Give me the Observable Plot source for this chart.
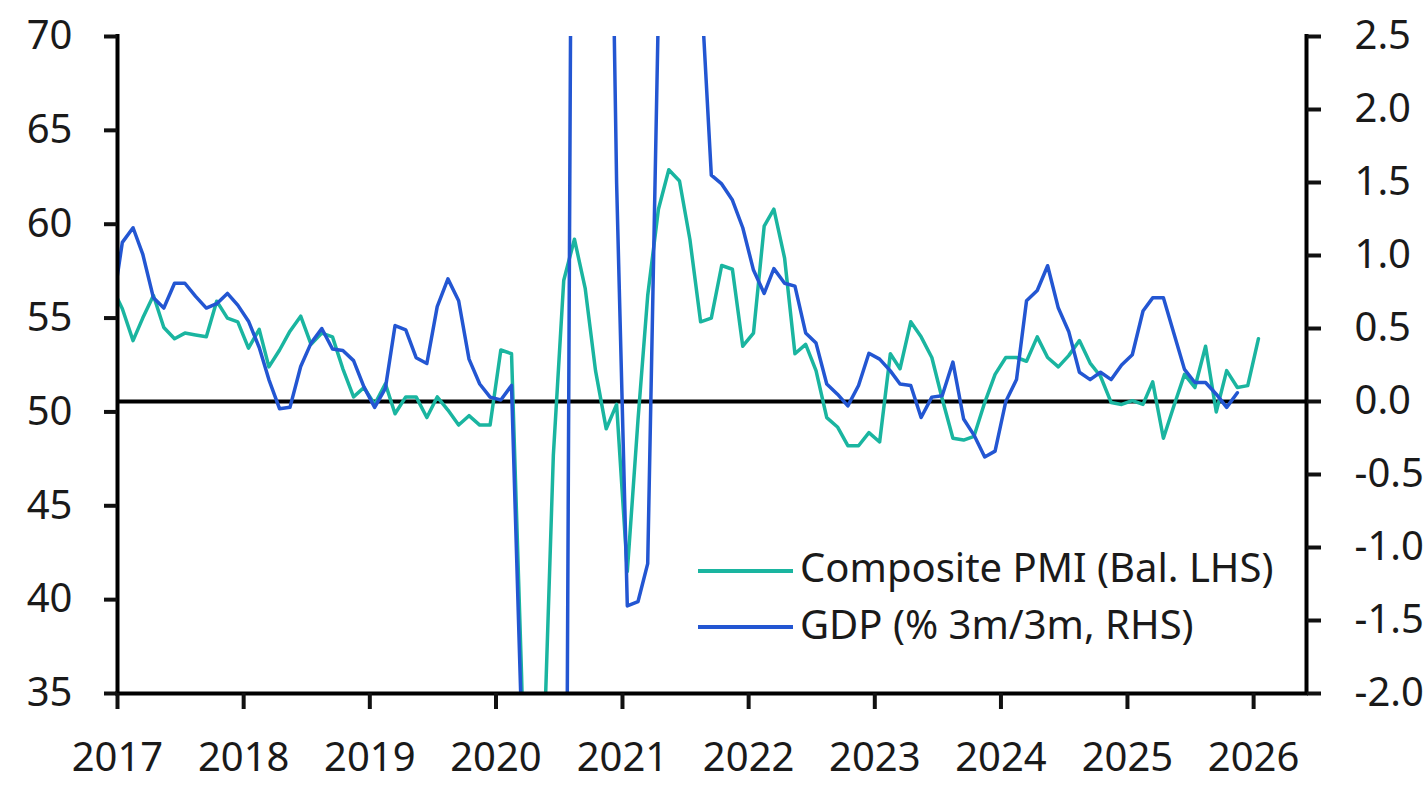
<!DOCTYPE html>
<html>
<head>
<meta charset="utf-8">
<script src="https://cdn.jsdelivr.net/npm/d3@7"></script>
<script src="https://cdn.jsdelivr.net/npm/@observablehq/plot@0.6"></script>
<style>
  html, body { margin: 0; padding: 0; background: #fff; }
  #wrap { position: relative; width: 1427px; height: 798px; overflow: hidden; font-family: "Noto Sans", sans-serif; color: #1a1a1a; }
  .sw { position: absolute; left: 698px; width: 95px; height: 4px; }
  .lt { position: absolute; left: 800px; font-size: 40px; line-height: 40px; white-space: nowrap; }
</style>
</head>
<body>
<div id="wrap"></div>
<script>
// ---- data (monthly, first value = Dec 2016) ----
const pmiStart = [2016, 11];
const pmi = [56.7,
  55.5, 53.8, 55.0, 56.2, 54.5, 53.9, 54.2, 54.1, 54.0, 55.9, 55.0, 54.8,
  53.4, 54.4, 52.4, 53.3, 54.3, 55.1, 53.6, 54.2, 54.0, 52.3, 50.8, 51.3,
  50.4, 51.5, 49.9, 50.8, 50.8, 49.7, 50.8, 50.1, 49.3, 49.8, 49.3, 49.3,
  53.3, 53.1, 36.0, 13.8, 30.0, 47.7, 57.0, 59.2, 56.6, 52.2, 49.1, 50.4,
  41.5, 49.6, 56.2, 60.8, 62.9, 62.3, 59.2, 54.8, 55.0, 57.8, 57.6, 53.5,
  54.2, 59.9, 60.8, 58.2, 53.1, 53.6, 52.2, 49.7, 49.2, 48.2, 48.2, 48.9,
  48.4, 53.1, 52.3, 54.8, 54.0, 52.9, 50.7, 48.6, 48.5, 48.7, 50.5, 52.0,
  52.9, 52.9, 52.7, 54.0, 52.9, 52.4, 53.0, 53.8, 52.6, 51.9, 50.5, 50.4,
  50.6, 50.4, 51.6, 48.6, 50.3, 52.0, 51.3, 53.5, 50.0, 52.2, 51.3, 51.4,
  53.9];

const gdpStart = [2016, 11];
const gdp = [0.60,
  1.09, 1.19, 1.01, 0.71, 0.64, 0.81, 0.81, 0.72, 0.64, 0.67, 0.74, 0.66,
  0.55, 0.37, 0.15, -0.05, -0.04, 0.24, 0.40, 0.50, 0.36, 0.35, 0.28, 0.10,
  -0.04, 0.09, 0.52, 0.49, 0.30, 0.26, 0.65, 0.84, 0.69, 0.29, 0.12, 0.03,
  0.01, 0.11, -2.2, -10.0, -19.0, -20.0, -7.0, 8.0, 15.0, 10.0, 6.0, 1.5,
  -1.40, -1.37, -1.11, 2.7, 3.6, 4.8, 3.6, 2.9, 1.55, 1.49, 1.38, 1.19,
  0.90, 0.74, 0.91, 0.81, 0.79, 0.47, 0.40, 0.12, 0.05, -0.03, 0.11, 0.33,
  0.29, 0.21, 0.12, 0.11, -0.11, 0.03, 0.04, 0.27, -0.12, -0.23, -0.38, -0.34,
  0.00, 0.15, 0.69, 0.76, 0.93, 0.64, 0.48, 0.20, 0.15, 0.20, 0.15, 0.25,
  0.32, 0.62, 0.71, 0.71, 0.47, 0.22, 0.13, 0.13, 0.05, -0.04, 0.06];

const leftDomain = [35, 70];
const rightDomain = [-2.0, 2.5];
const leftTicks = [35, 40, 45, 50, 55, 60, 65, 70];
const rightTicks = [-2.0, -1.5, -1.0, -0.5, 0.0, 0.5, 1.0, 1.5, 2.0, 2.5];
const yearTicks = [2017, 2018, 2019, 2020, 2021, 2022, 2023, 2024, 2025, 2026];
const xStart = [2017, 0, 1];
const xEnd = [2026, 5, 3];
const seriesNames = ["Composite PMI (Bal. LHS)", "GDP (% 3m/3m, RHS)"];
const seriesColors = ["#1ab5a0", "#2356d2"];

// ---- helpers ----
const monthDate = (start, i) => new Date(Date.UTC(start[0], start[1] + i, 15));
const toLeft = g => leftDomain[0] + (g - rightDomain[0]) * (leftDomain[1] - leftDomain[0]) / (rightDomain[1] - rightDomain[0]);
const toRight = v => rightDomain[0] + (v - leftDomain[0]) * (rightDomain[1] - rightDomain[0]) / (leftDomain[1] - leftDomain[0]);

const pmiRows = pmi.map((v, i) => ({date: monthDate(pmiStart, i), value: v}));
const gdpRows = gdp.map((v, i) => ({date: monthDate(gdpStart, i), value: v}));
const xDomain = [new Date(Date.UTC(...xStart)), new Date(Date.UTC(...xEnd))];

const axisStyle = {stroke: "#111", strokeWidth: 4, fontSize: 40, fill: "#1a1a1a"};

const chart = Plot.plot({
  width: 1427,
  height: 798,
  marginLeft: 117,
  marginRight: 121,
  marginTop: 36,
  marginBottom: 105,
  style: {fontFamily: "Noto Sans", fontSize: "40px", color: "#1a1a1a", background: "white", overflow: "visible"},
  x: {type: "utc", domain: xDomain, label: null},
  y: {domain: leftDomain, label: null},
  marks: [
    Plot.ruleY([toLeft(0)], {stroke: "#000", strokeWidth: 4}),
    Plot.line(pmiRows, {x: "date", y: "value", stroke: seriesColors[0], strokeWidth: 3.5, clip: true}),
    Plot.line(gdpRows, {x: "date", y: d => toLeft(d.value), stroke: seriesColors[1], strokeWidth: 3.5, clip: true}),
    Plot.ruleX([xDomain[0]], {stroke: "#000", strokeWidth: 4, strokeLinecap: "square"}),
    Plot.ruleX([xDomain[1]], {stroke: "#000", strokeWidth: 4, strokeLinecap: "square"}),
    Plot.ruleY([leftDomain[0]], {stroke: "#000", strokeWidth: 4, strokeLinecap: "square"}),
    Plot.axisY(leftTicks, {anchor: "left", tickSize: 13, tickPadding: 32, tickFormat: d => String(d), ...axisStyle}),
    Plot.axisY(rightTicks.map(toLeft), {anchor: "right", tickSize: 14, tickPadding: 34,
      tickFormat: d => (Math.round(toRight(d) * 10) / 10).toFixed(1), ...axisStyle}),
    Plot.axisX(yearTicks.map(y => new Date(Date.UTC(y, 0, 1))), {anchor: "bottom", tickSize: 16, tickPadding: 33,
      tickFormat: d => String(d.getUTCFullYear()), ...axisStyle})
  ]
});

const wrap = document.getElementById("wrap");
wrap.appendChild(chart);

// legend (HTML, over the plot)
const legendTops = [569, 625];
const textTops = [547, 604];
seriesNames.forEach((name, i) => {
  const sw = document.createElement("div");
  sw.className = "sw";
  sw.style.top = legendTops[i] + "px";
  sw.style.background = seriesColors[i];
  wrap.appendChild(sw);
  const t = document.createElement("div");
  t.className = "lt";
  t.style.top = textTops[i] + "px";
  t.textContent = name;
  wrap.appendChild(t);
});
</script>
</body>
</html>
